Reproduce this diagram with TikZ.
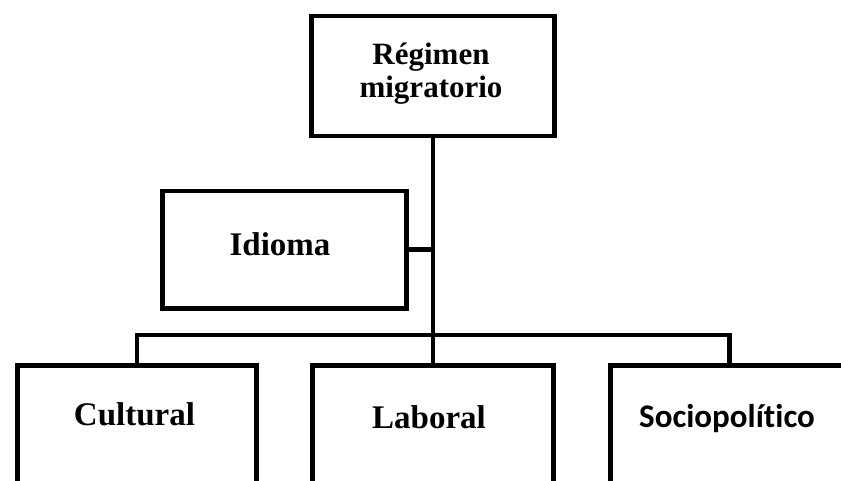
\documentclass[tikz,border=0pt]{standalone}
\usepackage{fontspec}
\setmainfont{Liberation Serif}
\newfontfamily\carlitofont[Ligatures=NoCommon]{Carlito}
\begin{document}
\begin{tikzpicture}[x=1pt,y=-1pt,
  boxstyle/.style={draw, line width=4.5pt, inner sep=0pt, anchor=north west},
  wire/.style={line width=4.5pt},
  lbl/.style={font=\bfseries\fontsize{33}{33}\selectfont, inner sep=0pt, anchor=base, align=center}]
\useasboundingbox (0,0) rectangle (841,481);
\fill[white] (0,0) rectangle (841,481);
\clip (0,0) rectangle (841,481);
% boxes
\node[boxstyle, minimum width=243pt, minimum height=120pt] (top) at (309,14) {};
\node[boxstyle, minimum width=244pt, minimum height=117pt] (idioma) at (160,189) {};
\node[boxstyle, minimum width=239pt, minimum height=130pt] (cultural) at (15,363) {};
\node[boxstyle, minimum width=241pt, minimum height=130pt] (laboral) at (310,363) {};
\node[boxstyle, minimum width=238pt, minimum height=130pt] (socio) at (608,363) {};
% connectors
\coordinate (bar) at (430.5,335);
\draw[wire] (top.south) -- (top.south |- laboral.north);
\draw[wire] (cultural.north) |- (bar) -| (socio.north);
\draw[wire] (idioma.east) -- (idioma.east -| top.south);
% labels
\node[lbl, font=\bfseries\fontsize{31}{33}\selectfont] (ttop) at (431,98) {Régimen\\migratorio};
\node[lbl] (tidioma) at (280,256) {Idioma};
\node[lbl] (tcultural) at (134.5,425) {Cultural};
\node[lbl] (tlaboral) at (429,428) {Laboral};
\node[lbl, font=\carlitofont\bfseries\fontsize{33}{33}\selectfont] (tsocio) at (727,427) {Sociopolítico};
\end{tikzpicture}
\end{document}
